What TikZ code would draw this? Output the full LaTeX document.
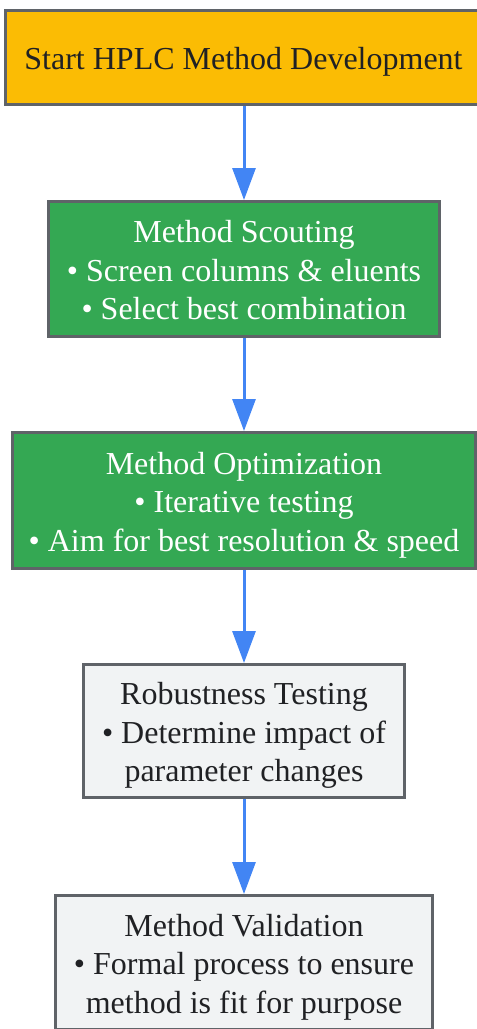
\documentclass[tikz,border=0pt]{standalone}
\usepackage{fontspec}
\setmainfont{Liberation Serif}
\usetikzlibrary{arrows.meta}
\definecolor{cyellow}{HTML}{FBBC04}
\definecolor{cgreen}{HTML}{34A853}
\definecolor{clight}{HTML}{F1F3F4}
\definecolor{cborder}{HTML}{5F6368}
\definecolor{carrow}{HTML}{4285F4}
\definecolor{ctext}{HTML}{202124}
\newcommand\lnstrut{\rule[-7bp]{0pt}{38.5bp}}
\tikzset{
  box/.style={draw=cborder, line width=3bp, rectangle, inner sep=0pt, align=center,
    font=\fontsize{32bp}{38.5bp}\selectfont},
  yellowbox/.style={box, fill=cyellow, text=ctext},
  greenbox/.style={box, fill=cgreen, text=white},
  lightbox/.style={box, fill=clight, text=ctext},
  flow/.style={draw=carrow, line width=3bp, -{Triangle[length=32bp, width=23bp]}}
}
\begin{document}
\begin{tikzpicture}[x=1bp, y=-1bp]
\useasboundingbox (0,0) rectangle (477,1029);
\clip (0,0) rectangle (477,1029);
\node[yellowbox, minimum width=476bp, minimum height=94bp] (start) at (243.5,57.5)
  {\lnstrut Start HPLC Method Development};
\node[greenbox, minimum width=391bp, minimum height=135bp] (scout) at (244,269)
  {\lnstrut Method Scouting\\\lnstrut • Screen columns \& eluents\\\lnstrut • Select best combination};
\node[greenbox, minimum width=463bp, minimum height=136bp] (opt) at (244,500.5)
  {\lnstrut Method Optimization\\\lnstrut • Iterative testing\\\lnstrut • Aim for best resolution \& speed};
\node[lightbox, minimum width=321bp, minimum height=133bp] (rob) at (244,731)
  {\lnstrut Robustness Testing\\\lnstrut • Determine impact of\\\lnstrut parameter changes};
\node[lightbox, minimum width=377bp, minimum height=134bp] (val) at (244,962.5)
  {\lnstrut Method Validation\\\lnstrut • Formal process to ensure\\\lnstrut method is fit for purpose};
\draw[flow] (start.south -| scout.north) -- (scout.north);
\draw[flow] (scout.south) -- (opt.north);
\draw[flow] (opt.south) -- (rob.north);
\draw[flow] (rob.south) -- (val.north);
\end{tikzpicture}
\end{document}
